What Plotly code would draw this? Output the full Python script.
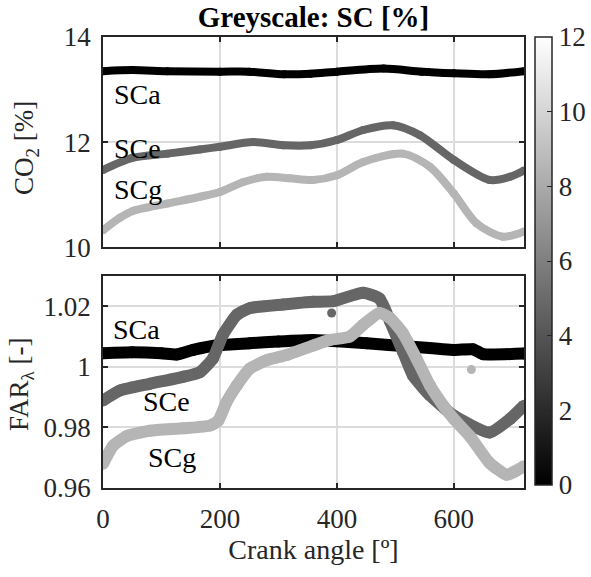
import plotly.graph_objects as go
from plotly.subplots import make_subplots

# ---------------- data ----------------
sc_values = {"SCa": 0.0, "SCe": 4.8, "SCg": 8.5}

co2_SCa_x = [0, 50, 110, 200, 250, 310, 355, 400, 480, 545, 600, 660, 720]
co2_SCa_y = [13.35, 13.37, 13.35, 13.34, 13.34, 13.29, 13.30, 13.34, 13.40, 13.34, 13.31, 13.29, 13.35]

co2_SCe_x = [0, 50, 110, 165, 200, 257, 308, 355, 400, 445, 496, 542, 600, 661, 696, 720]
co2_SCe_y = [11.47, 11.70, 11.78, 11.86, 11.91, 12.00, 11.94, 11.94, 12.04, 12.23, 12.32, 12.13, 11.66, 11.28, 11.34, 11.46]

co2_SCg_x = [0, 29, 51, 110, 166, 200, 240, 280, 320, 359, 400, 445, 513, 559, 600, 639, 684, 720]
co2_SCg_y = [10.32, 10.56, 10.69, 10.83, 10.96, 11.05, 11.24, 11.34, 11.31, 11.28, 11.37, 11.62, 11.78, 11.53, 11.02, 10.45, 10.20, 10.30]

far_SCa_x = [0, 50, 100, 126, 154, 200, 251, 300, 359, 400, 451, 525, 600, 633, 650, 720]
far_SCa_y = [1.0045, 1.0048, 1.0045, 1.0041, 1.0056, 1.0072, 1.0078, 1.0084, 1.0089, 1.0085, 1.0078, 1.0067, 1.0056, 1.0058, 1.0042, 1.0044]

far_SCe_x = [0, 29, 80, 137, 166, 188, 205, 229, 251, 308, 359, 394, 445, 473, 491, 513, 530, 559, 600, 661, 696, 720]
far_SCe_y = [0.9889, 0.9922, 0.9944, 0.9967, 0.9983, 1.0028, 1.0106, 1.0172, 1.0194, 1.0206, 1.0215, 1.0217, 1.0245, 1.0225, 1.0150, 1.0050, 0.9972, 0.9906, 0.9839, 0.9783, 0.9828, 0.9872]

far_SCg_x = [0, 17, 41, 80, 137, 183, 197, 211, 229, 251, 280, 314, 359, 388, 422, 445, 473, 491, 513, 536, 559, 582, 600, 627, 661, 690, 705, 720]
far_SCg_y = [0.9680, 0.9739, 0.9772, 0.9789, 0.9797, 0.9806, 0.9822, 0.9883, 0.9939, 0.9994, 1.0022, 1.0039, 1.0070, 1.0089, 1.0100, 1.0139, 1.0178, 1.0161, 1.0111, 1.0028, 0.9939, 0.9872, 0.9828, 0.9772, 0.9683, 0.9644, 0.9655, 0.9672]

outlier_SCe_x = [391]
outlier_SCe_y = [1.0178]
outlier_SCg_x = [630]
outlier_SCg_y = [0.9991]

x_ticks = [0, 200, 400, 600]
co2_ticks = [10, 12, 14]
far_ticks = [0.96, 0.98, 1.0, 1.02]
far_ticklabels = ["0.96", "0.98", "1", "1.02"]
cb_ticks = [0, 2, 4, 6, 8, 10, 12]

# ---------------- figure ----------------
FONT = "Liberation Serif, Times New Roman, serif"
FS = 27
TXT = "#262626"
CMIN, CMAX = 0, 12
GRAY = [[0, "rgb(0,0,0)"], [1, "rgb(255,255,255)"]]

# plot-area geometry (pixels) used to place paper-referenced items
L, R, T, B = 103, 524, 37, 488


def px_x(p):
    return (p - L) / (R - L)


def px_y(p):
    return (B - p) / (B - T)


def grey(v):
    g = int(round((v - CMIN) / (CMAX - CMIN) * 255))
    return f"rgb({g},{g},{g})"


fig = make_subplots(rows=2, cols=1, shared_xaxes=False, vertical_spacing=0.064)

series_top = [("SCa", co2_SCa_x, co2_SCa_y), ("SCe", co2_SCe_x, co2_SCe_y), ("SCg", co2_SCg_x, co2_SCg_y)]
series_bot = [("SCa", far_SCa_x, far_SCa_y), ("SCe", far_SCe_x, far_SCe_y), ("SCg", far_SCg_x, far_SCg_y)]

first = True
for name, xs, ys in series_top:
    v = sc_values[name]
    mk = dict(size=8, color=[v] * len(xs), colorscale=GRAY, cmin=CMIN, cmax=CMAX)
    if first:
        mk.update(showscale=True, colorbar=dict(
            xref="paper", yref="paper", x=px_x(535), xanchor="left", xpad=0,
            y=px_y((37 + 485) / 2), yanchor="middle", ypad=0,
            lenmode="fraction", len=448 / (B - T),
            thickness=17, outlinecolor=TXT, outlinewidth=1.5,
            tickvals=cb_ticks, ticks="inside", ticklen=5, tickcolor=TXT,
            tickfont=dict(family=FONT, size=FS, color=TXT)))
        first = False
    fig.add_trace(go.Scatter(x=xs, y=ys, mode="lines+markers", name=name,
                             line=dict(color=grey(v), width=8, shape="spline", smoothing=0.8),
                             marker=mk, showlegend=False, hoverinfo="skip"), row=1, col=1)

for name, xs, ys in series_bot:
    v = sc_values[name]
    fig.add_trace(go.Scatter(x=xs, y=ys, mode="lines+markers", name=name,
                             line=dict(color=grey(v), width=12, shape="spline", smoothing=0.5),
                             marker=dict(size=12, color=[v] * len(xs), colorscale=GRAY, cmin=CMIN, cmax=CMAX),
                             showlegend=False, hoverinfo="skip"), row=2, col=1)

for name, xs, ys in [("SCe", outlier_SCe_x, outlier_SCe_y), ("SCg", outlier_SCg_x, outlier_SCg_y)]:
    v = sc_values[name]
    fig.add_trace(go.Scatter(x=xs, y=ys, mode="markers",
                             marker=dict(size=9, color=[v] * len(xs), colorscale=GRAY, cmin=CMIN, cmax=CMAX),
                             showlegend=False, hoverinfo="skip"), row=2, col=1)

axis_common = dict(showline=True, linecolor=TXT, linewidth=1.5, mirror="ticks",
                   ticks="inside", ticklen=5, tickcolor=TXT, tickwidth=1.5,
                   showgrid=True, gridcolor="#dcdcdc", gridwidth=1.5, zeroline=False,
                   tickfont=dict(family=FONT, size=FS, color=TXT))

fig.update_xaxes(range=[0, 720], tickvals=x_ticks, showticklabels=False, **axis_common, row=1, col=1)
fig.update_xaxes(range=[0, 720], tickvals=x_ticks, showticklabels=True, ticklabelstandoff=6,
                 title=dict(text="Crank angle [º]", font=dict(family=FONT, size=28, color=TXT), standoff=0),
                 **axis_common, row=2, col=1)
fig.update_yaxes(range=[10, 14], tickvals=co2_ticks, ticklabelstandoff=5,
                 **axis_common, row=1, col=1)
fig.update_yaxes(range=[0.96, 1.03], tickvals=far_ticks, ticktext=far_ticklabels, ticklabelstandoff=5,
                 **axis_common, row=2, col=1)

fig.update_layout(
    yaxis=dict(domain=[0.534, 1.0]),
    yaxis2=dict(domain=[0.0, 0.470]),
)

# y-axis titles
fig.add_annotation(xref="paper", yref="paper", x=px_x(26), y=px_y(148), text="CO<sub>2</sub> [%]",
                   textangle=-90, showarrow=False, xanchor="center", yanchor="middle",
                   font=dict(family=FONT, size=FS, color=TXT))
fig.add_annotation(xref="paper", yref="paper", x=px_x(21), y=px_y(385), text="FAR<sub>λ</sub> [-]",
                   textangle=-90, showarrow=False, xanchor="center", yanchor="middle",
                   font=dict(family=FONT, size=FS, color=TXT))

labels = [
    ("x", "y", 17, 12.91, "SCa"),
    ("x", "y", 17, 11.87, "SCe"),
    ("x", "y", 17, 11.10, "SCg"),
    ("x2", "y2", 15, 1.0122, "SCa"),
    ("x2", "y2", 67, 0.9885, "SCe"),
    ("x2", "y2", 75, 0.9702, "SCg"),
]
for xr, yr, xv, yv, t in labels:
    fig.add_annotation(xref=xr, yref=yr, x=xv, y=yv, text=t, showarrow=False,
                       xanchor="left", yanchor="middle", borderpad=0,
                       font=dict(family=FONT, size=28, color="black"))

fig.update_layout(
    width=591, height=577,
    margin=dict(l=L, r=591 - R, t=T, b=577 - B, autoexpand=False),
    paper_bgcolor="white", plot_bgcolor="white",
    title=dict(text="<b>Greyscale: SC [%]</b>", x=((L + R) / 2) / 591, xanchor="center",
               y=1 - 17 / 577, yanchor="middle",
               font=dict(family=FONT, size=29, color="black")),
    font=dict(family=FONT, size=FS, color=TXT),
)

fig.write_html("out.html")
